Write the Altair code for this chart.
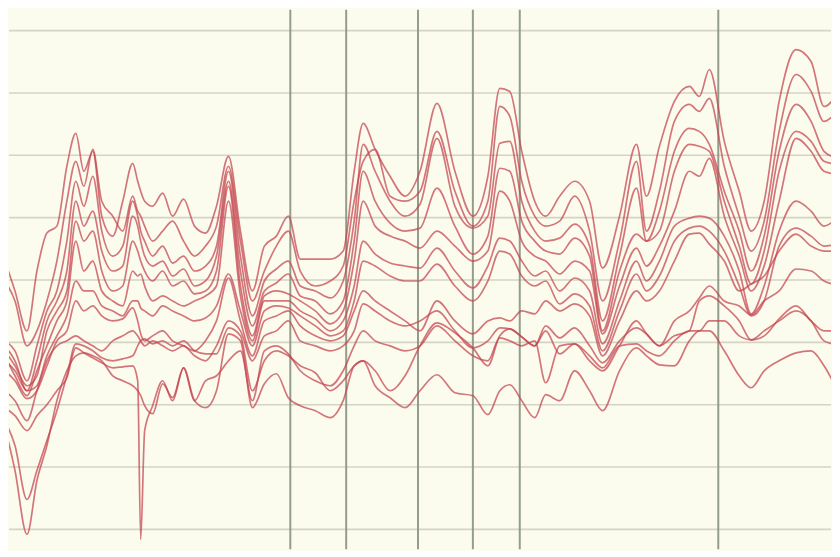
import altair as alt
import pandas as pd

# time positions (shared by every trace)
t = [0, 10, 22, 32, 42, 52, 62, 71, 79, 88,
     97, 108, 118, 128, 133, 136, 140, 148, 158, 168,
     179, 190, 201, 212, 224, 236, 248, 260, 272, 284,
     296, 311, 326, 339, 350, 359, 371, 386, 401, 416,
     433, 451, 469, 484, 496, 506, 518, 531, 542, 556,
     571, 586, 599, 616, 633, 643, 656, 671, 686, 696,
     706, 721, 736, 748, 761, 776, 793, 808, 821, 834]

s1 = [269, 239, 199, 259, 297, 304, 364, 397, 359, 379,
      314, 294, 329, 367, 349, 339, 329, 324, 337, 314,
      331, 304, 297, 324, 374, 299, 239, 284, 294, 314,
      271, 271, 271, 279, 359, 407, 381, 354, 334, 359,
      427, 359, 314, 354, 442, 439, 379, 329, 314, 334,
      349, 329, 262, 314, 386, 334, 384, 429, 444, 434,
      461, 389, 339, 299, 329, 429, 481, 469, 424, 436]
s2 = [249, 229, 184, 199, 229, 269, 329, 369, 344, 381,
      329, 314, 299, 334, 319, 314, 304, 289, 299, 309,
      289, 274, 284, 304, 364, 289, 229, 259, 284, 299,
      259, 244, 249, 264, 329, 369, 381, 334, 329, 339,
      399, 339, 304, 329, 424, 414, 349, 314, 304, 309,
      334, 299, 229, 289, 369, 299, 339, 409, 426, 419,
      432, 364, 314, 279, 309, 399, 456, 439, 409, 419]
s3 = [189, 179, 149, 184, 219, 239, 289, 349, 324, 354,
      299, 274, 284, 329, 314, 299, 289, 274, 284, 267,
      274, 259, 264, 284, 359, 274, 214, 249, 261, 269,
      244, 239, 232, 249, 309, 386, 359, 329, 314, 326,
      392, 324, 302, 314, 387, 389, 329, 299, 289, 292,
      306, 284, 209, 274, 342, 289, 319, 379, 402, 399,
      386, 339, 299, 259, 294, 379, 426, 409, 379, 372]
s4 = [184, 169, 139, 169, 209, 229, 259, 329, 304, 319,
      279, 259, 264, 314, 304, 289, 274, 264, 269, 254,
      261, 244, 249, 274, 349, 259, 204, 239, 247, 256,
      234, 229, 216, 229, 289, 359, 329, 307, 299, 302,
      342, 304, 276, 294, 362, 359, 309, 289, 279, 276,
      292, 274, 199, 259, 296, 289, 299, 359, 386, 384,
      379, 329, 284, 246, 279, 359, 399, 389, 369, 366]
s5 = [179, 164, 144, 154, 199, 219, 239, 309, 289, 299,
      259, 239, 244, 289, 279, 269, 259, 249, 259, 244,
      249, 236, 239, 259, 344, 244, 194, 234, 239, 236,
      229, 219, 206, 219, 269, 329, 304, 294, 289, 282,
      299, 284, 269, 279, 339, 329, 289, 274, 269, 256,
      269, 259, 196, 244, 282, 264, 284, 319, 359, 354,
      372, 314, 274, 239, 264, 329, 392, 379, 359, 356]
s6 = [174, 154, 134, 159, 184, 209, 229, 289, 259, 269,
      239, 229, 224, 259, 254, 256, 244, 229, 234, 229,
      224, 229, 234, 244, 329, 234, 189, 229, 229, 229,
      219, 211, 199, 209, 244, 289, 276, 267, 264, 262,
      282, 259, 242, 264, 292, 289, 269, 254, 259, 239,
      252, 239, 186, 229, 269, 249, 269, 304, 312, 314,
      312, 294, 259, 216, 244, 299, 329, 319, 304, 312]
s7 = [169, 159, 139, 144, 174, 194, 214, 249, 239, 239,
      224, 219, 214, 229, 229, 222, 219, 214, 224, 219,
      214, 209, 212, 224, 256, 219, 184, 219, 224, 222,
      214, 204, 194, 199, 229, 269, 264, 254, 249, 249,
      266, 244, 229, 249, 279, 276, 254, 244, 249, 226,
      236, 224, 179, 219, 256, 239, 254, 289, 302, 304,
      299, 279, 244, 214, 229, 284, 302, 294, 284, 286]
s8 = [159, 149, 131, 139, 164, 189, 199, 229, 219, 224,
      214, 209, 211, 222, 209, 196, 189, 194, 199, 189,
      184, 179, 189, 209, 252, 209, 174, 209, 214, 219,
      204, 194, 189, 194, 219, 239, 229, 219, 209, 199,
      229, 209, 196, 209, 212, 209, 219, 216, 229, 219,
      226, 214, 174, 209, 239, 229, 239, 269, 296, 297,
      286, 269, 239, 246, 254, 279, 296, 284, 279, 279]
s9 = [139, 129, 109, 139, 169, 184, 189, 194, 189, 184,
      179, 189, 194, 199, 194, 189, 184, 189, 184, 179,
      184, 174, 169, 184, 209, 199, 169, 194, 199, 209,
      189, 184, 179, 184, 199, 226, 219, 209, 204, 209,
      219, 199, 182, 189, 202, 201, 193, 184, 204, 192,
      202, 184, 167, 189, 202, 196, 184, 209, 219, 232,
      244, 229, 224, 215, 229, 239, 261, 259, 249, 245]
s10 = [122, 114, 99, 114, 125, 139, 152, 182, 177, 172,
       167, 162, 163, 164, 149, -10, 99, 124, 149, 129,
       162, 129, 149, 154, 169, 179, 129, 179, 184, 176,
       159, 149, 144, 159, 184, 199, 189, 184, 179, 184,
       204, 189, 174, 169, 192, 189, 184, 189, 147, 184,
       186, 174, 162, 184, 186, 179, 174, 189, 199, 199,
       209, 209, 194, 190, 199, 209, 219, 209, 189, 185]
s11 = [109, 84, 30, 59, 89, 119, 154, 186, 184, 179,
       172, 169, 171, 174, 184, 189, 191, 186, 189, 184,
       189, 179, 176, 176, 202, 194, 139, 169, 179, 174,
       164, 157, 139, 149, 164, 169, 159, 139, 154, 184,
       207, 197, 182, 164, 194, 201, 193, 184, 199, 176,
       186, 169, 159, 184, 209, 196, 184, 194, 199, 229,
       234, 224, 209, 190, 194, 211, 224, 209, 199, 199]
s12 = [102, 59, -5, 49, 84, 129, 159, 174, 177, 174,
       169, 154, 149, 144, 139, 134, 124, 116, 146, 132,
       162, 129, 122, 139, 196, 189, 122, 146, 156, 132,
       124, 119, 112, 129, 164, 169, 144, 132, 122, 139,
       155, 137, 134, 115, 139, 145, 129, 112, 135, 129,
       159, 139, 119, 159, 182, 174, 165, 164, 189, 199,
       199, 179, 154, 142, 159, 169, 177, 179, 164, 140]

series = {"S1": s1, "S2": s2, "S3": s3, "S4": s4, "S5": s5, "S6": s6,
          "S7": s7, "S8": s8, "S9": s9, "S10": s10, "S11": s11, "S12": s12}

# event markers (vertical) and horizontal reference levels
markers = [286, 342, 414, 469, 516, 715]
levels = [0, 62.5, 125, 187.5, 250, 312.5, 375, 437.5, 500]

rows = []
for name, vals in series.items():
    assert len(vals) == len(t), name
    for ti, v in zip(t, vals):
        rows.append({"series": name, "t": ti, "v": v})
df = pd.DataFrame(rows)

xscale = alt.Scale(domain=[4, 828], nice=False, zero=False)
yscale = alt.Scale(domain=[-20, 521], nice=False, zero=False)

hgrid = alt.Chart(pd.DataFrame({"v": levels})).mark_rule(
    color="#d3d3c6", strokeWidth=1.6
).encode(y=alt.Y("v:Q", scale=yscale, axis=None))

vmark = alt.Chart(pd.DataFrame({"t": markers})).mark_rule(
    color="#88927f", strokeWidth=2, opacity=0.9
).encode(x=alt.X("t:Q", scale=xscale, axis=None))

lines = alt.Chart(df).mark_line(
    interpolate="monotone", color="#c4424e", strokeWidth=1.7, opacity=0.72, clip=True
).encode(
    x=alt.X("t:Q", scale=xscale, axis=None),
    y=alt.Y("v:Q", scale=yscale, axis=None),
    detail="series:N",
)

chart = alt.layer(hgrid, vmark, lines).properties(
    width=824, height=541, background="#fcfcee", padding=0
).configure_view(stroke=None, fill="#fcfcee")

chart.save("out.html", embed_options={"renderer": "svg", "actions": False})
